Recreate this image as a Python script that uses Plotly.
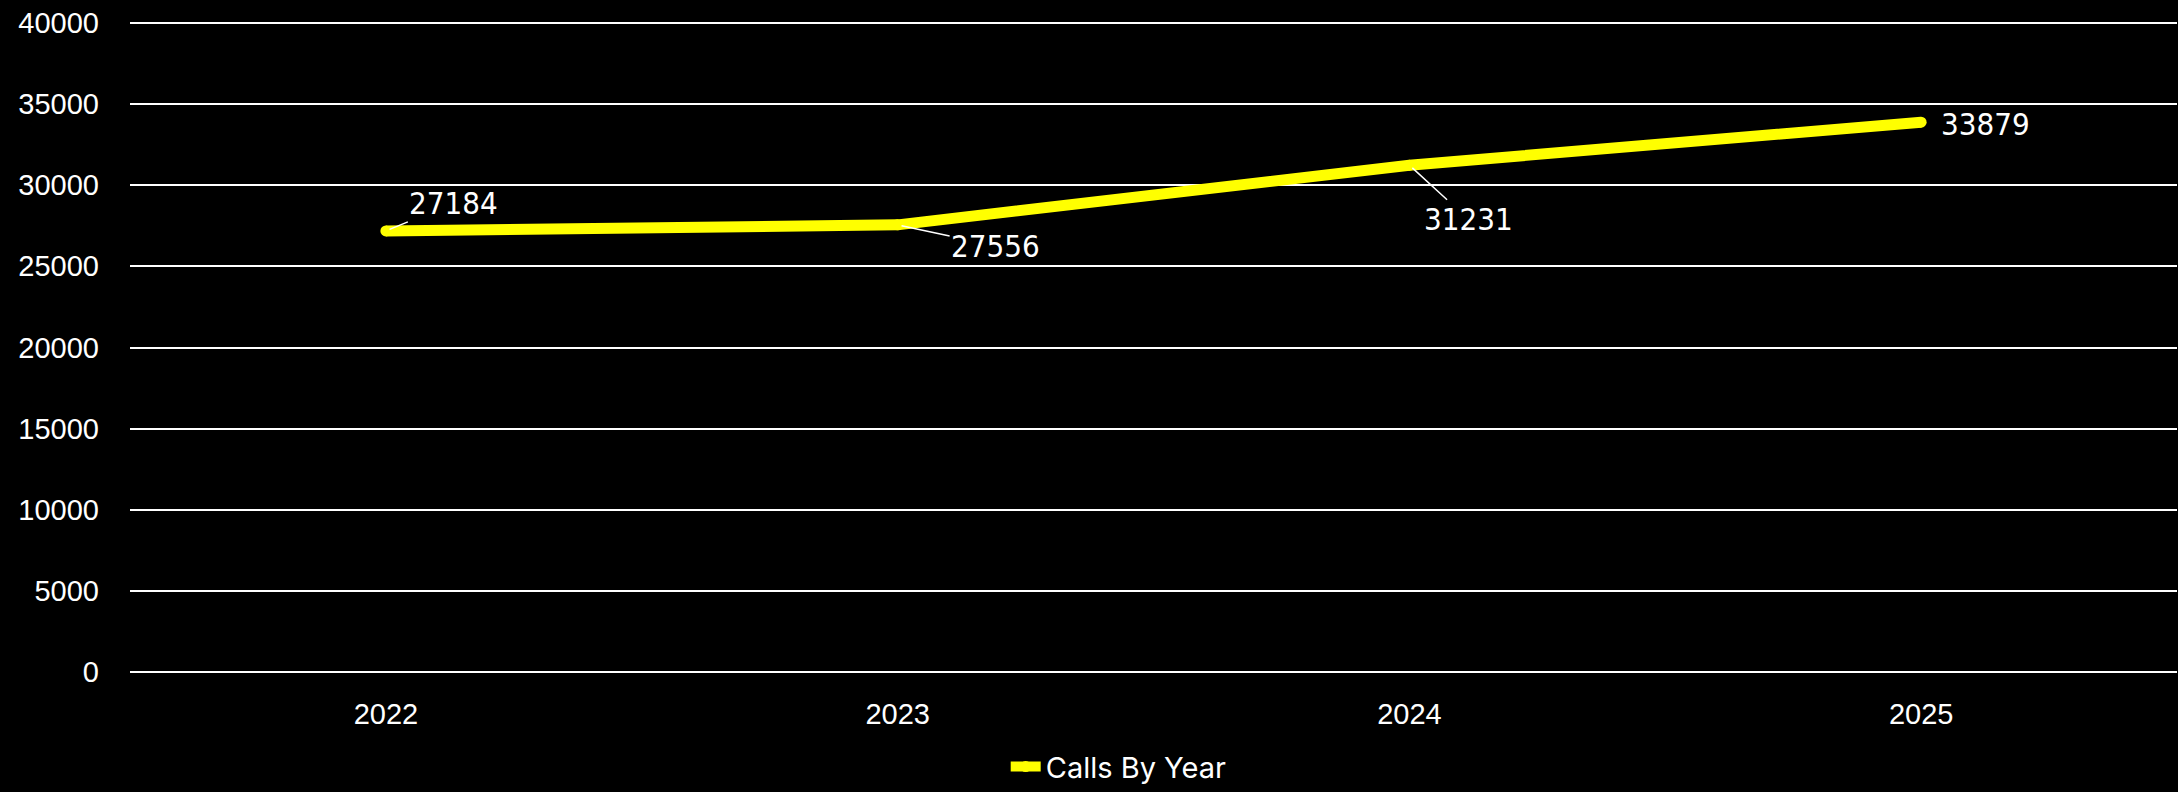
import plotly.graph_objects as go

years = ["2022", "2023", "2024", "2025"]
calls = [27184, 27556, 31231, 33879]
series_name = "Calls By Year"
y_ticks = [0, 5000, 10000, 15000, 20000, 25000, 30000, 35000, 40000]

# label offsets (pixels) from each point, and whether a leader line is drawn
label_dx = [68, 98, 59, 64]
label_dy = [-28, 21, 54, 2]
label_leader = [True, True, True, False]

fig = go.Figure()
fig.add_trace(go.Scatter(
    x=years, y=calls, mode="lines+markers", name=series_name,
    line=dict(color="#ffff00", width=11),
    marker=dict(color="#ffff00", size=11),
))

label_font = dict(family="DejaVu Sans Condensed, DejaVu Sans, sans-serif", size=31, color="#ffffff")
for i, (y, dx, dy, lead) in enumerate(zip(calls, label_dx, label_dy, label_leader)):
    if lead:
        fig.add_annotation(x=i, y=y, xref="x", yref="y", text=str(y), showarrow=True,
                           ax=dx, ay=dy, arrowhead=0, arrowwidth=1.5, arrowcolor="#ffffff",
                           standoff=4, font=label_font)
    else:
        fig.add_annotation(x=i, y=y, xref="x", yref="y", text=str(y), showarrow=False,
                           xshift=dx, yshift=-dy, font=label_font)

fig.update_layout(
    width=2178, height=792,
    paper_bgcolor="#000000", plot_bgcolor="#000000",
    margin=dict(l=130, r=1, t=18, b=115, autoexpand=False),
    font=dict(family="Liberation Sans, Arial, sans-serif", size=29, color="#ffffff"),
    showlegend=True,
    legend=dict(orientation="h", x=0.483, xanchor="center",
                yref="container", y=0.032, yanchor="middle",
                font=dict(family="Inter, Noto Sans, sans-serif", size=29, color="#ffffff"),
                bgcolor="rgba(0,0,0,0)"),
    xaxis=dict(type="category", range=[-0.5, 3.5], showgrid=False, zeroline=False,
               showline=False, ticks="", ticklabelstandoff=17, automargin=False,
               tickfont=dict(size=29, color="#ffffff")),
    yaxis=dict(range=[-300, 40300], tickvals=y_ticks, tickformat="d", showgrid=True,
               gridcolor="#ffffff", gridwidth=2, zeroline=False, showline=False, ticks="",
               ticklabelstandoff=30, automargin=False,
               tickfont=dict(size=29, color="#ffffff")),
)

fig.write_html("out.html", config={"displayModeBar": False},
               post_script="document.body.style.margin='0';")
